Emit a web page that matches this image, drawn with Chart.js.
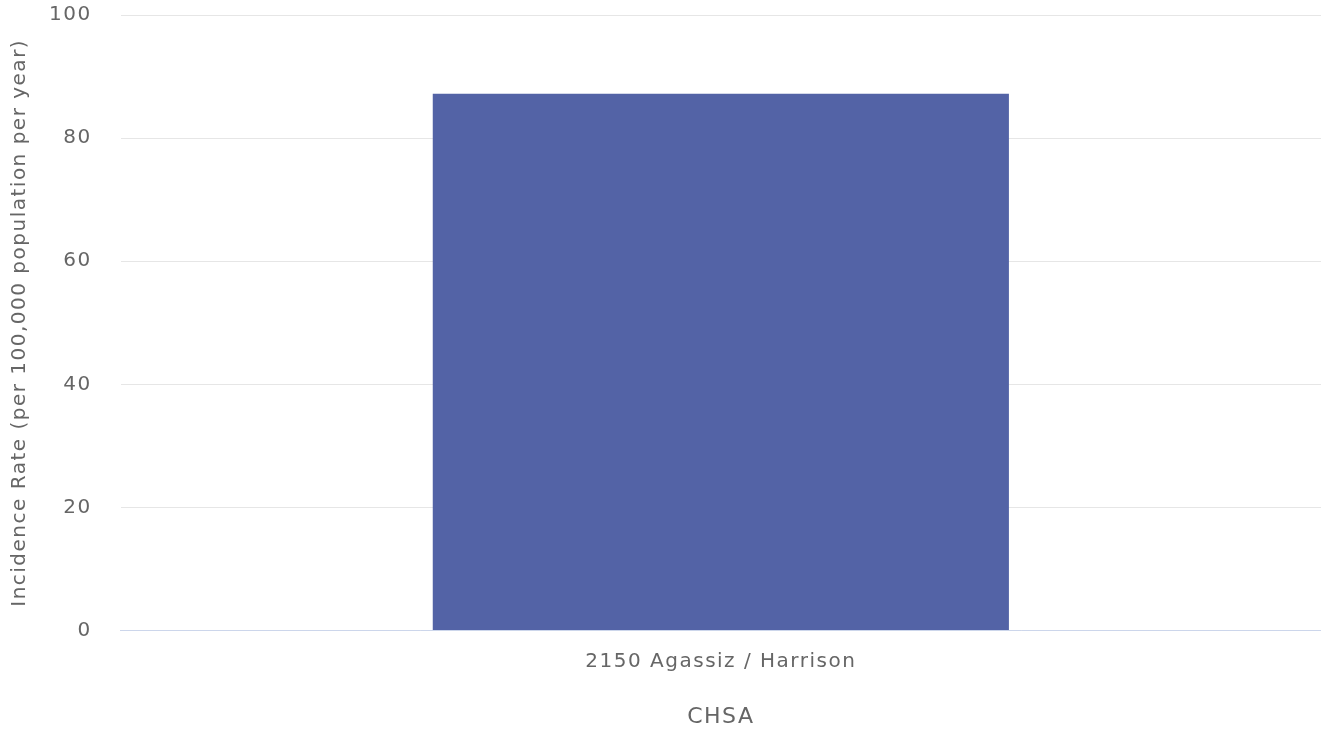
<!DOCTYPE html>
<html><head><meta charset="utf-8">
<script src="https://cdn.jsdelivr.net/npm/chart.js@4/dist/chart.umd.min.js"></script>
<style>html,body{margin:0;padding:0;background:#fff;}#wrap{width:1321px;height:732px;}</style>
</head><body><div id="wrap"><canvas id="c"></canvas></div>
<script>
const categories = ["2150 Agassiz / Harrison"];
const rates = [87.2];
const yTicks = [0, 20, 40, 60, 80, 100];
const xTitle = "CHSA";
const yTitle = "Incidence Rate (per 100,000 population per year)";

const LS = '1.5px';
const spacing = {
  id: 'spacing',
  beforeInit(chart){ chart.ctx.letterSpacing = LS; },
  beforeUpdate(chart){ chart.ctx.letterSpacing = LS; },
  beforeLayout(chart){ chart.ctx.letterSpacing = LS; },
  beforeDraw(chart){ chart.ctx.letterSpacing = LS; }
};

new Chart(document.getElementById('c'), {
  type: 'bar',
  data: { labels: categories, datasets: [{ data: rates, backgroundColor: '#5363a6', barPercentage: 0.6, categoryPercentage: 0.8 }] },
  options: {
    responsive: true, maintainAspectRatio: false, animation: false,
    layout: { padding: 0 },
    plugins: { legend: { display: false }, tooltip: { enabled: false } },
    scales: {
      x: {
        grid: { display: false, drawTicks: false },
        border: { color: '#ccd6eb', width: 1 },
        ticks: { color: '#666666', font: { family: 'DejaVu Sans', size: 20 }, padding: 19 },
        title: { display: true, text: xTitle, color: '#666666', font: { family: 'DejaVu Sans', size: 22 }, padding: { top: 11, bottom: 2 } }
      },
      y: {
        min: 0, max: 100,
        afterBuildTicks(ax){ ax.ticks = yTicks.map(v => ({ value: v })); },
        grid: { color: '#e6e6e6', drawTicks: true, tickLength: 26, tickColor: 'rgba(0,0,0,0)' },
        border: { display: false },
        ticks: { color: '#666666', font: { family: 'DejaVu Sans', size: 20 }, padding: 3 },
        title: { display: true, text: yTitle, color: '#666666', font: { family: 'DejaVu Sans', size: 20 }, padding: { top: 8, bottom: 14 } }
      }
    }
  },
  plugins: [spacing]
});
</script></body></html>
